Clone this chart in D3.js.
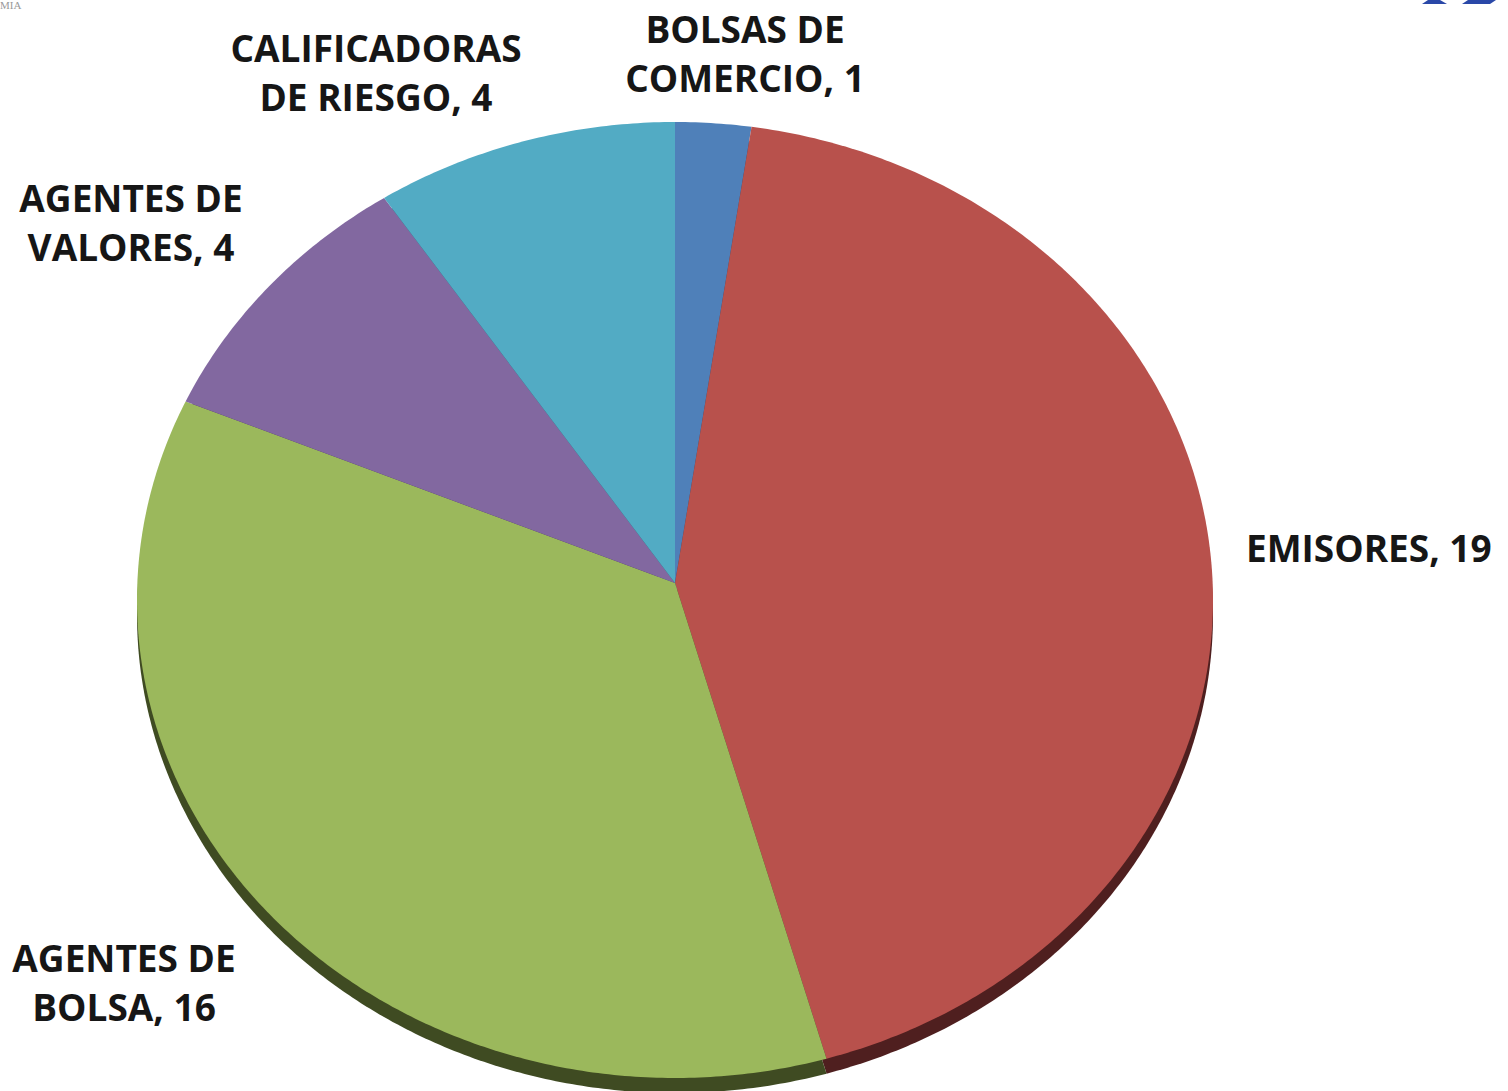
<!DOCTYPE html>
<html lang="es">
<head>
<meta charset="UTF-8">
<title>Participantes</title>
<script src="https://d3js.org/d3.v7.min.js"></script>
<style>
  html, body { margin:0; padding:0; background:#fff; overflow:hidden; }
  text { font-family:"Open Sans", sans-serif; font-weight:700; fill:#161616; }
</style>
</head>
<body>
<div id="chart"></div>
<script>
const categories=["BOLSAS DE COMERCIO","EMISORES","AGENTES DE BOLSA","AGENTES DE VALORES","CALIFICADORAS DE RIESGO"];
const values=[1,19,16,4,4];
const labelLines=[["BOLSAS DE","COMERCIO, 1"],["EMISORES, 19"],["AGENTES DE","BOLSA, 16"],["AGENTES DE","VALORES, 4"],["CALIFICADORAS","DE RIESGO, 4"]];
const colors=["#4f80b9","#b8514c","#9bb85c","#8268a0","#52abc4"];
const sideColors=["#2c4a6e","#4f1f1f","#3f4b22","#45365a","#2a5f6e"];

// label anchor points (layout only)
const labelPos=[{x:745,y:43,a:"middle"},{x:1246,y:562,a:"start"},{x:124,y:972,a:"middle"},{x:131,y:212,a:"middle"},{x:376,y:62,a:"middle"}];

const W=1508,H=1091,cx=675,cy=600,apexY=583,rx=538,ry=478,depth=15;
const svg=d3.select("#chart").append("svg").attr("width",W).attr("height",H);

const pie=d3.pie().sort(null).value(d=>d)(values);

// slice on a tilted ellipse: apex slightly above the ellipse centre
function slicePath(d,dy){
  const n=Math.max(4,Math.ceil((d.endAngle-d.startAngle)/0.01));
  const pts=[[cx,apexY+dy]];
  for(let k=0;k<=n;k++){
    const a=d.startAngle+(d.endAngle-d.startAngle)*k/n;
    pts.push([cx+rx*Math.sin(a),cy+dy-ry*Math.cos(a)]);
  }
  return d3.line()(pts)+"Z";
}

// side (extrusion)
svg.append("g").selectAll("path").data(pie).join("path")
  .attr("d",d=>slicePath(d,depth)).attr("fill",(d,i)=>sideColors[i]);

// top faces
svg.append("g").selectAll("path").data(pie).join("path")
  .attr("d",d=>slicePath(d,0)).attr("fill",(d,i)=>colors[i]);

// labels
const lg=svg.append("g");
labelLines.forEach((lines,i)=>{
  const p=labelPos[i];
  const t=lg.append("text").attr("x",p.x).attr("y",p.y).attr("text-anchor",p.a)
    .style("font-size","37px");
  lines.forEach((l,j)=>t.append("tspan").attr("x",p.x).attr("dy",j?49:0).text(l));
});

// logo fragments
svg.append("text").attr("x",0).attr("y",9).style("font-size","11px")
  .style("font-family","Liberation Serif, serif").style("font-weight","400").style("fill","#999").text("MIA");
svg.append("path").attr("d","M1422,4 L1447,4 L1440,0 L1428,0Z").attr("fill","#2a48a8");
svg.append("path").attr("d","M1462,4 L1490,4 L1496,0 L1468,0Z").attr("fill","#2a48a8");
</script>
</body>
</html>
